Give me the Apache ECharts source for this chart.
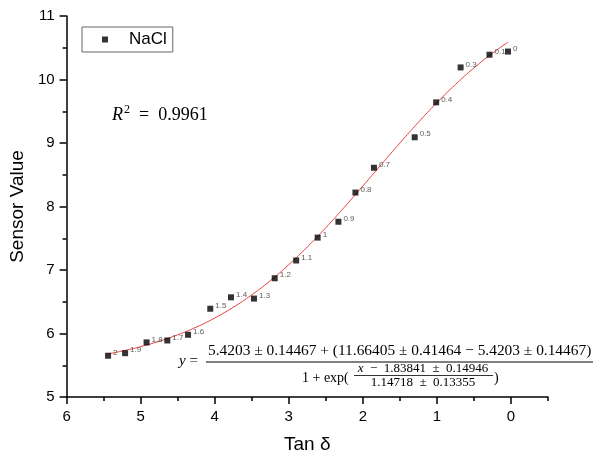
<!DOCTYPE html>
<html><head><meta charset="utf-8">
<script src="https://cdn.jsdelivr.net/npm/echarts@6/dist/echarts.min.js"></script>
<style>html,body{margin:0;padding:0;background:#fff}#c{width:593px;height:460px}</style>
</head><body><div id="c"></div>
<script>
// Measured points (Tan δ vs sensor value), labels are NaCl concentrations
const concLabels = ['0','0.1','0.3','0.4','0.5','0.7','0.8','0.9','1','1.1','1.2','1.3','1.4','1.5','1.6','1.7','1.8','1.9','2'];
const tanDelta   = [0.04,0.29,0.68,1.01,1.30,1.85,2.10,2.33,2.61,2.90,3.19,3.47,3.78,4.06,4.36,4.64,4.92,5.21,5.44];
const sensorValue= [10.44,10.39,10.19,9.64,9.09,8.61,8.22,7.76,7.51,7.15,6.87,6.55,6.57,6.39,5.98,5.89,5.86,5.69,5.65];
// Fitted curve samples
const fitX = [0.04,0.25,0.5,0.75,1,1.25,1.5,1.75,2,2.25,2.5,2.75,3,3.25,3.5,3.75,4,4.25,4.5,4.75,5,5.25,5.44];
const fitY = [10.587,10.414,10.182,9.921,9.635,9.326,8.999,8.662,8.323,7.988,7.666,7.363,7.084,6.832,6.608,6.413,6.244,6.100,5.979,5.878,5.793,5.724,5.680];
const xTicks = [0,1,2,3,4,5,6];
const xMinorTicks = [-0.5,0.5,1.5,2.5,3.5,4.5,5.5];
const yMin = 5, yMax = 11;

const chart = echarts.init(document.getElementById('c'), null, {renderer:'canvas'});
const sans = 'Liberation Sans, Arial, sans-serif';
const serif = 'Liberation Serif, Times New Roman, serif';
const axisCol = '#000';
chart.setOption({
  animation:false,
  backgroundColor:'#fff',
  grid:{left:64,right:45,top:16,bottom:63},
  legend:{
    data:[{name:'NaCl',icon:'rect'}],
    left:82, top:27, itemWidth:6, itemHeight:6,
    borderColor:'#666', borderWidth:1, padding:[4,6,4,20],
    textStyle:{fontSize:17,color:'#000',fontFamily:sans,padding:[0,0,0,16]}
  },
  xAxis:[{
    type:'value', inverse:true, min:-0.5, max:6,
    name:'Tan δ', nameLocation:'middle', nameGap:38,
    nameTextStyle:{fontSize:19,color:'#000',fontFamily:sans},
    axisLine:{show:true,onZero:false,lineStyle:{color:axisCol,width:1.5}},
    axisTick:{show:true,customValues:xTicks,length:7,lineStyle:{color:axisCol,width:1.5}},
    axisLabel:{customValues:xTicks,fontSize:15,color:'#000',fontFamily:sans,margin:12},
    splitLine:{show:false}
  },{
    type:'value', inverse:true, min:-0.5, max:6, position:'bottom',
    axisLine:{show:false,onZero:false},
    axisTick:{show:true,customValues:xMinorTicks,length:4,lineStyle:{color:axisCol,width:1.5}},
    axisLabel:{show:false}, splitLine:{show:false}
  }],
  yAxis:{
    type:'value', min:yMin, max:yMax, interval:1,
    name:'Sensor Value', nameLocation:'middle', nameGap:37,
    nameTextStyle:{fontSize:19,color:'#000',fontFamily:sans},
    axisLine:{show:true,onZero:false,lineStyle:{color:axisCol,width:1.5}},
    axisTick:{show:true,length:7,lineStyle:{color:axisCol,width:1.5}},
    minorTick:{show:true,splitNumber:2,length:4,lineStyle:{color:axisCol,width:1.5}},
    axisLabel:{fontSize:15,color:'#000',fontFamily:sans,margin:12},
    splitLine:{show:false}
  },
  series:[{
    name:'fit', type:'line', smooth:true, showSymbol:false, symbol:'none',
    data:fitX.map((x,i)=>[x,fitY[i]]),
    lineStyle:{color:'#e8413c',width:1}, z:2, silent:true
  },{
    name:'NaCl', type:'scatter', symbol:'rect', symbolSize:6, z:3,
    itemStyle:{color:'#000'},
    data:tanDelta.map((x,i)=>[x,sensorValue[i]]),
    label:{show:true, position:'right', distance:2, offset:[0,-3],
      formatter:p=>concLabels[p.dataIndex], fontSize:8, color:'#333', fontFamily:sans}
  }],
  graphic:[
    {type:'text', left:112, top:104, style:{
      text:'{i|R}{s|2}{n|  =  0.9961}',
      rich:{
        i:{fontSize:18,fontStyle:'italic',fontFamily:serif,fill:'#000',lineHeight:22},
        s:{fontSize:12,fontFamily:serif,fill:'#000',verticalAlign:'top',lineHeight:22,padding:[0,0,6,1]},
        n:{fontSize:18,fontFamily:serif,fill:'#000',lineHeight:22}
      }}},
    {type:'text', x:179, y:361, style:{text:'{i|y} =', rich:{i:{fontStyle:'italic',fontSize:15,fontFamily:serif}}, fontSize:15, fontFamily:serif, fill:'#000', verticalAlign:'middle', align:'left'}},
    {type:'text', x:208, y:351, style:{text:'5.4203 ± 0.14467 + (11.66405 ± 0.41464 − 5.4203 ± 0.14467)', fontSize:15.4, fontFamily:serif, fill:'#000', verticalAlign:'middle', align:'left'}},
    {type:'line', shape:{x1:206,y1:362,x2:593,y2:362}, style:{stroke:'#000',lineWidth:1}},
    {type:'text', x:302, y:378, style:{text:'1 + exp(', fontSize:14, fontFamily:serif, fill:'#000', verticalAlign:'middle', align:'left'}},
    {type:'text', x:423, y:369, style:{text:'{i|x}  −  1.83841  ±  0.14946', rich:{i:{fontStyle:'italic',fontSize:13,fontFamily:serif}}, fontSize:13, fontFamily:serif, fill:'#000', verticalAlign:'middle', align:'center'}},
    {type:'line', shape:{x1:354,y1:375.5,x2:493,y2:375.5}, style:{stroke:'#000',lineWidth:0.8}},
    {type:'text', x:423, y:383, style:{text:'1.14718  ±  0.13355', fontSize:13, fontFamily:serif, fill:'#000', verticalAlign:'middle', align:'center'}},
    {type:'text', x:494, y:378, style:{text:')', fontSize:14, fontFamily:serif, fill:'#000', verticalAlign:'middle', align:'left'}}
  ]
});
</script></body></html>
